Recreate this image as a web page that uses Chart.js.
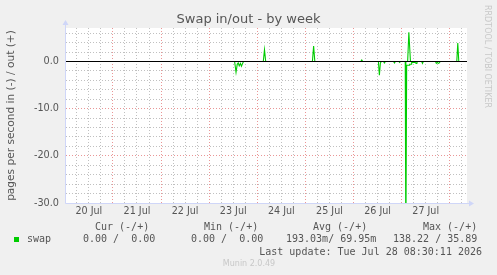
<!DOCTYPE html>
<html>
<head>
<meta charset="utf-8">
<title>Swap in/out - by week</title>
<script src="https://cdn.jsdelivr.net/npm/chart.js@4.4.1/dist/chart.umd.min.js"></script>
<style>
    html, body { margin: 0; padding: 0; background: #f0f0f0; }
    #wrap { width: 497px; height: 275px; }
</style>
</head>
<body>
<div id="wrap"><canvas id="swapChart" width="497" height="275"></canvas></div>
<script>
// Hours are counted from 20 Jul 00:00
const xMin = 0.6;
const xMax = 200.6;

const dayLabels = ['20 Jul', '21 Jul', '22 Jul', '23 Jul', '24 Jul', '25 Jul', '26 Jul', '27 Jul'];
const dayLabelHours = [12, 36, 60, 84, 108, 132, 156, 180];

const yTickValues = [-30, -28, -26, -24, -22, -20, -18, -16, -14, -12, -10, -8, -6, -4, -2, 0, 2, 4, 6];
const yLabelValues = [-30, -20, -10, 0];

// swap out (+), pages per second
const outHours = [0.6, 99.0, 99.6, 100.2, 123.5, 124.1, 124.7, 147.6, 148.1, 148.6, 171.0, 171.6, 172.4, 195.5, 196.0, 196.5, 200.6];
const outValues = [0, 0, 2.5, 0, 0, 3.3, 0, 0, 0.3, 0, 0, 6.2, 0, 0, 3.9, 0, 0];

// swap in (-), pages per second (drawn negative)
const inHours = [0.6, 84.7, 85.4, 86.0, 86.5, 87.0, 87.6, 88.1, 88.6, 89.1,
    156.4, 156.9, 157.4, 157.9,
    159.0, 159.4, 159.9,
    164.0, 164.4, 164.9,
    166.6, 167.0, 167.4,
    169.8, 170.1, 170.5, 171.9, 172.0, 172.8, 173.0, 174.8, 175.2, 175.6, 176.1,
    178.0, 178.4, 178.8,
    184.9, 185.3, 185.8, 186.3, 186.8, 187.2,
    200.6];
const inValues = [0, 0, 2.3, 0.6, 0.3, 0.9, 0.4, 1.0, 0.5, 0,
    0, 2.9, 0.3, 0,
    0, 0.3, 0,
    0, 0.3, 0,
    0, 0.2, 0,
    0, 40, 0.8, 0.8, 0.6, 0.6, 0.2, 0.2, 0.4, 0.2, 0,
    0, 0.4, 0,
    0, 0.4, 0.2, 0.4, 0.3, 0,
    0];

const legendHeaders = ['Cur (-/+)', 'Min (-/+)', 'Avg (-/+)', 'Max (-/+)'];
const legendValues = ['0.00 /  0.00', '0.00 /  0.00', '193.03m/ 69.95m', '138.22 / 35.89'];
const lastUpdate = 'Last update: Tue Jul 28 08:30:11 2026';

const GREEN = '#00cc00';
const FONT_COLOR = '#555555';
const AXIS_COLOR = '#cfd6f8';
const MINOR_GRID = 'rgba(140, 140, 140, 0.55)';
const MAJOR_GRID = 'rgba(220, 80, 80, 0.6)';

// Background, zero rule, axes, title and the munin legend
const muninPlugin = {
    id: 'muninPlugin',
    beforeDraw(chart) {
        const ctx = chart.ctx;
        const a = chart.chartArea;
        ctx.save();
        ctx.fillStyle = '#f0f0f0';
        ctx.fillRect(0, 0, chart.width, chart.height);
        ctx.fillStyle = '#ffffff';
        ctx.fillRect(a.left, a.top, a.right - a.left, a.bottom - a.top);
        ctx.restore();
    },
    afterDatasetsDraw(chart) {
        const ctx = chart.ctx;
        const a = chart.chartArea;
        const yZero = Math.floor(chart.scales.y.getPixelForValue(0)) + 0.5;
        ctx.save();
        // zero rule
        ctx.strokeStyle = '#000000';
        ctx.lineWidth = 1;
        ctx.beginPath();
        ctx.moveTo(a.left, yZero);
        ctx.lineTo(a.right, yZero);
        ctx.stroke();

        // axes with arrows
        ctx.strokeStyle = AXIS_COLOR;
        ctx.fillStyle = AXIS_COLOR;
        const xb = a.bottom + 0.5;
        const xl = a.left - 0.5;
        ctx.beginPath();
        ctx.moveTo(xl, xb);
        ctx.lineTo(a.right + 2, xb);
        ctx.moveTo(xl, xb);
        ctx.lineTo(xl, a.top - 3);
        ctx.stroke();
        ctx.beginPath();
        ctx.moveTo(a.right + 2, xb - 3);
        ctx.lineTo(a.right + 7, xb);
        ctx.lineTo(a.right + 2, xb + 3);
        ctx.closePath();
        ctx.fill();
        ctx.beginPath();
        ctx.moveTo(xl - 3, a.top - 3);
        ctx.lineTo(xl, a.top - 8);
        ctx.lineTo(xl + 3, a.top - 3);
        ctx.closePath();
        ctx.fill();
        ctx.restore();
    },
    afterDraw(chart) {
        const ctx = chart.ctx;
        ctx.save();

        // title
        ctx.fillStyle = FONT_COLOR;
        ctx.font = '13px "DejaVu Sans"';
        ctx.textAlign = 'center';
        ctx.textBaseline = 'alphabetic';
        ctx.fillText('Swap in/out - by week', 248.5, 23);

        // watermark on the right
        ctx.save();
        ctx.translate(487.5, 5);
        ctx.rotate(Math.PI / 2);
        ctx.font = '8px "DejaVu Sans"';
        ctx.fillStyle = '#c8c8c8';
        ctx.textAlign = 'left';
        ctx.textBaseline = 'middle';
        ctx.fillText('RRDTOOL / TOBI OETIKER', 0, 0);
        ctx.restore();

        // legend table
        ctx.font = '10px "DejaVu Sans Mono"';
        ctx.fillStyle = FONT_COLOR;
        ctx.textAlign = 'left';
        ctx.textBaseline = 'middle';
        const headerX = [95, 204, 313, 423];
        const valueX = [83, 191, 286, 393];
        legendHeaders.forEach((h, i) => ctx.fillText(h, headerX[i], 227.5));
        legendValues.forEach((v, i) => ctx.fillText(v, valueX[i], 239.5));
        ctx.fillText('swap', 27, 239.5);
        ctx.textAlign = 'right';
        ctx.fillText(lastUpdate, 482, 252);

        ctx.fillStyle = GREEN;
        ctx.fillRect(14, 237, 5, 5);

        // footer
        ctx.font = '8px "DejaVu Sans"';
        ctx.fillStyle = '#c8c8c8';
        ctx.textAlign = 'center';
        ctx.fillText('Munin 2.0.49', 249, 264);
        ctx.restore();
    }
};

function buildPoints(hours, values, sign) {
    return hours.map((h, i) => ({ x: h, y: sign * values[i] }));
}

const ctx = document.getElementById('swapChart');
const swapChart = new Chart(ctx, {
    type: 'line',
    data: {
        datasets: [
            {
                label: 'swap in',
                data: buildPoints(inHours, inValues, -1),
                borderColor: GREEN,
                borderWidth: 1.1,
                pointRadius: 0,
                tension: 0,
                fill: false,
                clip: 0
            },
            {
                label: 'swap out',
                data: buildPoints(outHours, outValues, 1),
                borderColor: GREEN,
                borderWidth: 1.1,
                pointRadius: 0,
                tension: 0,
                fill: false,
                clip: 0
            }
        ]
    },
    options: {
        responsive: false,
        animation: false,
        events: [],
        layout: { padding: { top: 28, right: 30, bottom: 0, left: 0 } },
        plugins: {
            legend: { display: false },
            tooltip: { enabled: false },
            title: { display: false }
        },
        scales: {
            x: {
                type: 'linear',
                min: xMin,
                max: xMax,
                afterBuildTicks(scale) {
                    const ticks = [];
                    for (let h = 6; h < xMax; h += 6) ticks.push({ value: h });
                    scale.ticks = ticks;
                },
                afterFit(scale) { scale.height = 72; },
                grid: {
                    drawTicks: false,
                    lineWidth: 1,
                    color: c => (c.tick && c.tick.value % 24 === 0) ? MAJOR_GRID : MINOR_GRID
                },
                border: { display: false, dash: [1, 2] },
                ticks: {
                    autoSkip: false,
                    maxRotation: 0,
                    padding: 3,
                    color: FONT_COLOR,
                    font: { family: 'DejaVu Sans', size: 9.6 },
                    callback: v => {
                        const i = dayLabelHours.indexOf(v);
                        return i >= 0 ? dayLabels[i] : '';
                    }
                }
            },
            y: {
                type: 'linear',
                min: -30,
                max: 7.1,
                afterBuildTicks(scale) {
                    scale.ticks = yTickValues.map(v => ({ value: v }));
                },
                afterFit(scale) { scale.width = 66; },
                grid: {
                    drawTicks: false,
                    lineWidth: 1,
                    color: c => {
                        const v = c.tick ? c.tick.value : null;
                        if (v === 0) return 'rgba(0,0,0,0)';
                        return v % 10 === 0 ? MAJOR_GRID : MINOR_GRID;
                    }
                },
                border: { display: false, dash: [1, 2] },
                title: {
                    display: true,
                    text: 'pages per second in (-) / out (+)',
                    color: FONT_COLOR,
                    font: { family: 'DejaVu Sans', size: 10.6 },
                    padding: { top: 5, bottom: 0 }
                },
                ticks: {
                    autoSkip: false,
                    padding: 7,
                    color: FONT_COLOR,
                    font: { family: 'DejaVu Sans', size: 9.7 },
                    callback: v => yLabelValues.includes(v) ? v.toFixed(1) : ''
                }
            }
        }
    },
    plugins: [muninPlugin]
});
</script>
</body>
</html>
